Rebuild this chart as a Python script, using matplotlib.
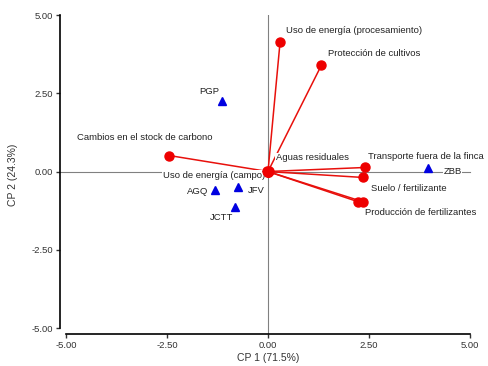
import matplotlib
matplotlib.use("Agg")
import matplotlib.pyplot as plt
from matplotlib.ticker import FormatStrFormatter

plt.rcParams['font.family'] = ['Liberation Sans', 'DejaVu Sans']

# Variable vectors (red)
var_names = ["Uso de energía (procesamiento)", "Protección de cultivos",
             "Cambios en el stock de carbono", "Transporte fuera de la finca",
             "Suelo / fertilizante", "Producción de fertilizantes", "",
             "Aguas residuales", "Uso de energía (campo)"]
var_x = [0.30, 1.32, -2.44, 2.41, 2.36, 2.34, 2.22, 0.02, -0.02]
var_y = [4.15, 3.39, 0.51, 0.13, -0.19, -0.96, -0.96, 0.02, 0.01]

# Sites (blue triangles)
site_names = ["PGP", "ZBB", "AGQ", "JFV", "JCTT"]
site_x = [-1.14, 3.97, -1.30, -0.75, -0.81]
site_y = [2.24, 0.10, -0.58, -0.48, -1.12]

# label offsets in pixels (dx, dy, ha)
var_offsets = [(6, 11, 'left'), (7, 12, 'left'), (-25, 18, 'center'),
               (3, 11, 'left'), (8, -11, 'left'), (2, -11, 'left'), (0, 0, 'left'),
               (7, 13, 'left'), (-2, -4, 'right')]
site_offsets = [(-13, 10, 'center'), (15, -3, 'left'), (-7, -2, 'right'),
                (10, -4, 'left'), (-14, -11, 'center')]

fig = plt.figure(figsize=(4.89, 3.66), dpi=100)
ax = fig.add_axes([0.1227, 0.0874, 0.8507, 0.8716])
ax.set_xlim(-5.15, 5.15)
ax.set_ylim(-5.19, 5.0)

# reference lines
ax.plot([-5.15, 5.0], [0, 0], color='#808080', lw=0.8, zorder=1)
ax.plot([0, 0], [-5.19, 5.0], color='#808080', lw=0.8, zorder=1)

# vectors
for x, y in zip(var_x, var_y):
    ax.plot([0, x], [0, y], color='#e8100c', lw=1.1, zorder=2)
ax.plot(var_x, var_y, 'o', color='#ee0000', ms=6.5, zorder=4, mec='#ee0000')
ax.plot([0], [0], 'o', color='#ee0000', ms=7, zorder=4)

ax.plot(site_x, site_y, '^', color='#0000e0', ms=6, zorder=4, mec='#0000e0')

label_style = dict(textcoords='offset pixels', va='center', fontsize=6.8,
                   color='#222222', zorder=3,
                   bbox=dict(facecolor='white', edgecolor='none', pad=0.5))
for name, x, y, (dx, dy, ha) in zip(var_names, var_x, var_y, var_offsets):
    if name:
        ax.annotate(name, (x, y), xytext=(dx, dy), ha=ha, **label_style)
for name, x, y, (dx, dy, ha) in zip(site_names, site_x, site_y, site_offsets):
    ax.annotate(name, (x, y), xytext=(dx, dy), ha=ha, **label_style)

# axes styling
for s in ['top', 'right']:
    ax.spines[s].set_visible(False)
ax.spines['bottom'].set_bounds(-5, 5)
ax.spines['left'].set_bounds(-5, 5)
ax.spines['left'].set_linewidth(1.2)
ax.spines['bottom'].set_linewidth(1.2)
ticks = [-5, -2.5, 0, 2.5, 5]
ax.set_xticks(ticks)
ax.set_yticks(ticks)
ax.xaxis.set_major_formatter(FormatStrFormatter('%.2f'))
ax.yaxis.set_major_formatter(FormatStrFormatter('%.2f'))
ax.tick_params(labelsize=6.8, colors='#333333', length=3, width=1, pad=2)
ax.set_xlabel("CP 1 (71.5%)", fontsize=7.5, color='#333333', labelpad=2)
ax.set_ylabel("CP 2 (24.3%)", fontsize=7.5, color='#333333')
ax.yaxis.set_label_coords(-0.102, 0.5)

fig.savefig("out.png", dpi=100)
